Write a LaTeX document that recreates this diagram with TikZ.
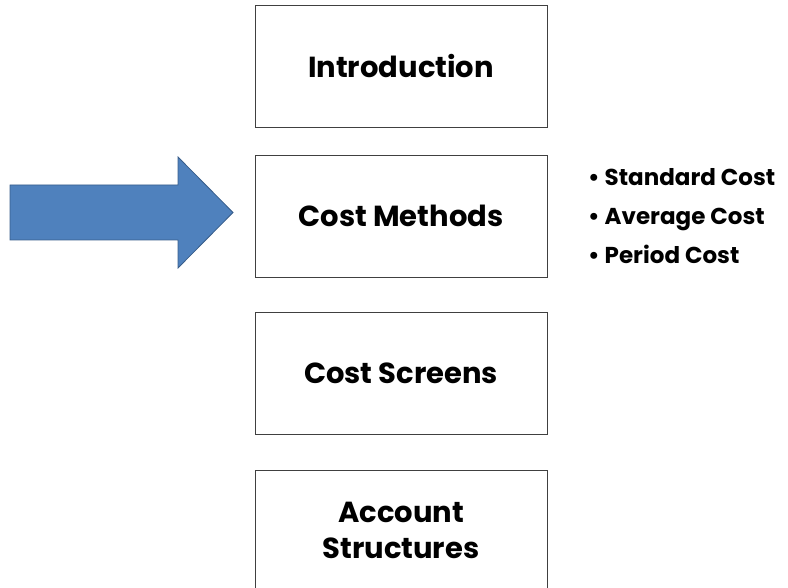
\documentclass[tikz,border=0pt]{standalone}
\usepackage{fontspec}
\setmainfont{Poppins}
\usetikzlibrary{positioning}
\definecolor{arrowBlue}{RGB}{79,129,189}
\definecolor{arrowEdge}{RGB}{56,93,138}
\tikzstyle{slide} = [x = 1pt, y = -1pt]
\tikzstyle{topicBox} = [draw=black!75, thick, minimum width = 292pt, minimum height = 122pt, align = center, inner sep = 0pt, font = \bfseries\fontsize{29}{36}\selectfont]
\tikzstyle{bulletText} = [anchor = base west, inner sep = 0pt, font = \bfseries\fontsize{23}{26}\selectfont]
\tikzstyle{pointerStyle} = [fill=arrowBlue, draw=arrowEdge, thick, line join = miter]
\newcommand{\costItem}[1]{\textbullet\hspace{5pt}#1}

\begin{document}
\begin{tikzpicture}[slide]
  \useasboundingbox (0,0) rectangle (788,588);

  \node [topicBox] (intro) at (401,66.5) {Introduction};
  \node [topicBox, below = 27pt of intro] (methods) {Cost Methods};
  \node [topicBox, below = 34pt of methods] (screens) {Cost Screens};
  \node [topicBox, below = 35pt of screens] (accounts) {Account\\Structures};

  % bullet list beside the current topic
  \node [bulletText] (standard) at (588,186) {\costItem{Standard Cost}};
  \node [bulletText] (average) at (588,225) {\costItem{Average Cost}};
  \node [bulletText] (period) at (588,264) {\costItem{Period Cost}};

  % the big arrow
  \filldraw [pointerStyle] (10,185) -- (178,185) -- (178,157) -- (233,212.5)
    -- (178,268) -- (178,240) -- (10,240) -- cycle;
\end{tikzpicture}
\end{document}
